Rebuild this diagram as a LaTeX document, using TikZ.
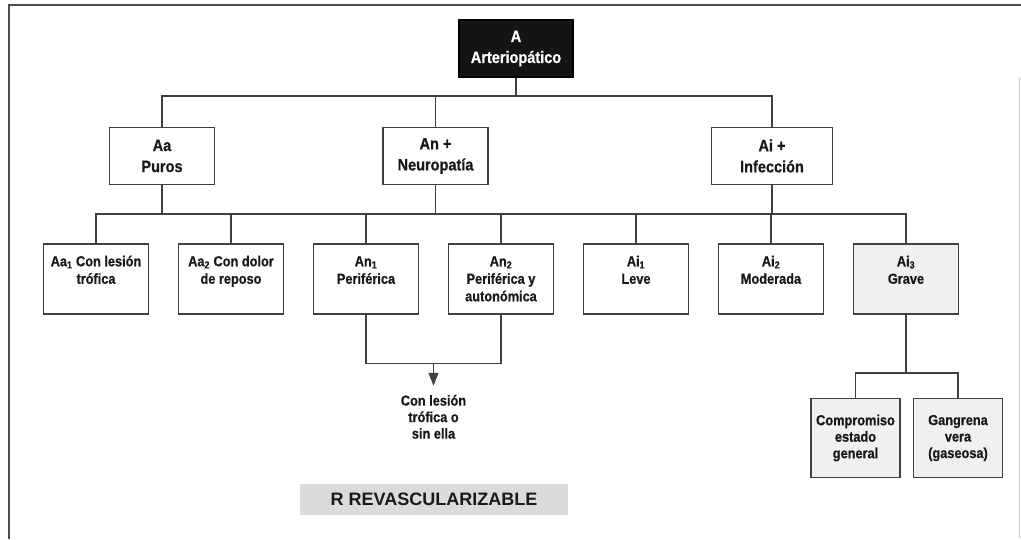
\documentclass[tikz,border=0pt]{standalone}
\usepackage{fontspec}
\setmainfont{Liberation Sans}
\newfontfamily\narrowfont{Liberation Sans}[FakeStretch=0.88, FakeBold=0.6]
\usetikzlibrary{positioning}
\usetikzlibrary{arrows.meta}
\usetikzlibrary{calc}
\definecolor{boxline}{gray}{0.25}
\definecolor{lightfill}{gray}{0.94}
\definecolor{revfill}{gray}{0.86}
\newcommand{\topcell}[1]{\parbox[c][70pt][t]{105pt}{\centering\vspace*{10pt}\strut#1}}

\begin{document}
\begin{tikzpicture}[x=1pt, y=-1pt,
head/.style={draw=black, fill=black!92, text=white, align=center, line width=1.4pt,
font=\narrowfont\bfseries\fontsize{16.5}{21}\selectfont, minimum width=114pt, minimum height=57pt},
    group/.style={draw=boxline, fill=white, text=black!90, align=center, line width=1.5pt,
    font=\narrowfont\bfseries\fontsize{16.5}{21}\selectfont, minimum width=105pt, minimum height=57pt},
    leaf/.style={draw=boxline, fill=white, text=black!90, line width=1.5pt, inner sep=0pt,
    font=\narrowfont\bfseries\fontsize{14.5}{17.5}\selectfont},
    grave/.style={leaf, fill=lightfill},
    outcome/.style={draw=boxline, fill=lightfill, text=black!90, align=center, line width=1.5pt,
    font=\narrowfont\bfseries\fontsize{14.5}{16.5}\selectfont, minimum width=89pt, minimum height=79pt},
    note/.style={text=black!90, align=center, inner xsep=0pt, inner ysep=9pt,
    font=\narrowfont\bfseries\fontsize{14.5}{16.5}\selectfont},
    revbox/.style={fill=revfill, text=black!90, font=\bfseries\fontsize{18}{20}\selectfont,
    minimum width=268pt, minimum height=31pt},
    link/.style={draw=boxline, line width=1.3pt}]
    \useasboundingbox (0,0) rectangle (1021,539);
    \draw[black!70, line width=2pt] (9,539) -- (9,5) -- (1021,5);
    \draw[black!20, line width=1pt] (1019,77) -- (1019,539);

    \node[head] (a) at (516,48.5) {A\\Arteriopático};
    \node[group] (an) [below=49pt of a, xshift=-80.5pt] {An +\\Neuropatía};
    \node[group] (aa) [left=167pt of an] {Aa\\Puros};
    \node[group, minimum width=121pt] (ai) [right=222pt of an] {Ai +\\Infección};

    \node[leaf] (aa1) at (96,279) {\topcell{Aa\textsubscript{1} Con lesión\\trófica}};
    \node[leaf] (aa2) [right=28.5pt of aa1] {\topcell{Aa\textsubscript{2} Con dolor\\de reposo}};
    \node[leaf] (an1) [right=28.5pt of aa2] {\topcell{An\textsubscript{1}\\Periférica}};
    \node[leaf] (an2) [right=28.5pt of an1] {\topcell{An\textsubscript{2}\\Periférica y\\autonómica}};
    \node[leaf] (ai1) [right=28.5pt of an2] {\topcell{Ai\textsubscript{1}\\Leve}};
    \node[leaf] (ai2) [right=28.5pt of ai1] {\topcell{Ai\textsubscript{2}\\Moderada}};
    \node[grave] (ai3) [right=28.5pt of ai2] {\topcell{Ai\textsubscript{3}\\Grave}};

    \node[outcome] (comp) [below=83pt of ai3, xshift=-50.5pt] {Compromiso\\estado\\general};
    \node[outcome] (gang) [right=12pt of comp] {Gangrena\\vera\\(gaseosa)};

    \coordinate (join) at ($(an1.south)!.5!(an2.south) + (0,49)$);
    \node[note] (con) [below=22pt of join] {Con lesión\\trófica o\\sin ella};
    \node[revbox] (rev) at (434,499.5) {R REVASCULARIZABLE};

    \coordinate (bus1) at (0,96);
    \coordinate (bus2) at (0,214);
    \coordinate (bus3) at (0,373);

\draw[link] (a.south) -- (a.south |- bus1);
\draw[link] (aa.north) |- (ai.north |- bus1) -- (ai.north);
\draw[link] (an.north) -- (an.north |- bus1);
\draw[link] (aa1.north) |- (ai3.north |- bus2) -- (ai3.north);
\foreach \n in {aa, an, ai}
    \draw[link] (\n.south) -- (\n.south |- bus2);
\foreach \n in {aa2, an1, an2, ai1, ai2}
    \draw[link] (\n.north) -- (\n.north |- bus2);
\draw[link] (an1.south) |- (join) -| (an2.south);
\draw[link, -{Triangle[length=13pt, width=10pt]}] (join) -- (con.north);
\draw[link] (ai3.south) -- (ai3.south |- bus3);
\draw[link] (comp.north) |- (gang.north |- bus3) -- (gang.north);
\end{tikzpicture}
\end{document}
